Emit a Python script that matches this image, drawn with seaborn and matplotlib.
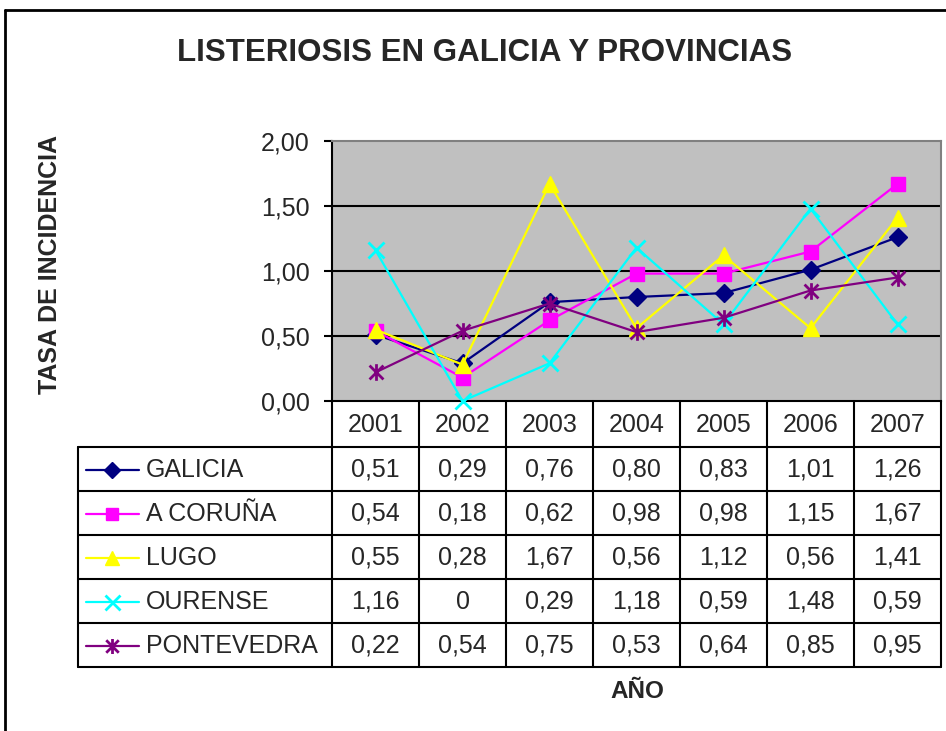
import numpy as np
import pandas as pd
import matplotlib
matplotlib.use("Agg")
import matplotlib.pyplot as plt
from matplotlib.path import Path
import seaborn as sns

years = ["2001", "2002", "2003", "2004", "2005", "2006", "2007"]
series_names = ["GALICIA", "A CORUÑA", "LUGO", "OURENSE", "PONTEVEDRA"]
galicia = [0.51, 0.29, 0.76, 0.80, 0.83, 1.01, 1.26]
coruna = [0.54, 0.18, 0.62, 0.98, 0.98, 1.15, 1.67]
lugo = [0.55, 0.28, 1.67, 0.56, 1.12, 0.56, 1.41]
ourense = [1.16, 0.0, 0.29, 1.18, 0.59, 1.48, 0.59]
pontevedra = [0.22, 0.54, 0.75, 0.53, 0.64, 0.85, 0.95]
yticks = [0.0, 0.5, 1.0, 1.5, 2.0]

title = "LISTERIOSIS EN GALICIA Y PROVINCIAS"
ylabel = "TASA DE INCIDENCIA"
xlabel = "AÑO"

values = [galicia, coruna, lugo, ourense, pontevedra]
colors = ["#000080", "#FF00FF", "#FFFF00", "#00FFFF", "#800080"]

star = Path([(-1, -1), (1, 1), (-1, 1), (1, -1), (0, -1.2), (0, 1.2)],
            [Path.MOVETO, Path.LINETO, Path.MOVETO, Path.LINETO, Path.MOVETO, Path.LINETO])
markers = ["D", "s", "^", "x", star]
msizes = [9, 10, 11, 12, 12]

sns.set_style("white")
plt.rcParams["font.family"] = ["Liberation Sans", "DejaVu Sans"]

W, H = 946, 731
fig = plt.figure(figsize=(W / 100, H / 100), dpi=100)

L, R, T, B = 332, 941, 141, 401
ax = fig.add_axes([L / W, 1 - B / H, (R - L) / W, (B - T) / H])
ax.set_facecolor("#C0C0C0")

x = np.arange(len(years))
for name, vals, c, m, ms in zip(series_names, values, colors, markers, msizes):
    df = pd.DataFrame({"x": x, "v": vals})
    sns.lineplot(data=df, x="x", y="v", ax=ax, color=c, marker=m, markersize=ms,
                 markeredgecolor=c, markerfacecolor=c,
                 markeredgewidth=2 if (m is star or (isinstance(m, str) and m == "x")) else 1,
                 linewidth=1.6, legend=False, zorder=3, clip_on=False)

ax.set_xlim(-0.5, len(years) - 0.5)
ax.set_ylim(0, 2.0)
ax.set_yticks(yticks)
ax.set_yticklabels([f"{v:.2f}".replace(".", ",") for v in yticks], fontsize=18)
ax.set_xticks([])
ax.set_xlabel("")
ax.set_ylabel("")
for g in yticks[1:-1]:
    ax.axhline(g, color="black", lw=1.5, zorder=1)
ax.tick_params(axis="y", direction="out", length=6, width=1.5, color="black", pad=10)
ax.yaxis.set_ticks_position("left")
for s in ["top", "right"]:
    ax.spines[s].set_color("#808080")
    ax.spines[s].set_linewidth(1.5)
ax.spines["left"].set_color("black")
ax.spines["left"].set_linewidth(1.5)
ax.spines["bottom"].set_color("black")
ax.spines["bottom"].set_linewidth(1.5)

# overlay for table, titles, border
ov = fig.add_axes([0, 0, 1, 1], facecolor="none")
ov.set_xlim(0, W)
ov.set_ylim(H, 0)
ov.axis("off")

col_w = (R - L) / len(years)
row_top = 447
row_h = (667 - 447) / len(series_names)
lw = 1.5
for i in range(len(years) + 1):
    xx = L + i * col_w
    ov.plot([xx, xx], [B, 667], color="black", lw=lw)
ov.plot([78, 78], [row_top, 667], color="black", lw=lw)
for j in range(len(series_names) + 1):
    yy = row_top + j * row_h
    ov.plot([78, R], [yy, yy], color="black", lw=lw)

for i, yr in enumerate(years):
    ov.text(L + (i + 0.5) * col_w, (B + row_top) / 2 + 1, yr, ha="center", va="center", fontsize=18)

for j, (name, vals, c, m, ms) in enumerate(zip(series_names, values, colors, markers, msizes)):
    cy = row_top + (j + 0.5) * row_h + 1
    ov.plot([86, 139], [cy, cy], color=c, lw=1.6)
    ov.plot([112], [cy], marker=m, markersize=ms * 0.9, color=c, markeredgecolor=c,
            markeredgewidth=2 if (m is star or (isinstance(m, str) and m == "x")) else 1)
    ov.text(146, cy, name, ha="left", va="center", fontsize=18)
    for i, v in enumerate(vals):
        s = "0" if v == 0 else f"{v:.2f}".replace(".", ",")
        ov.text(L + (i + 0.5) * col_w, cy, s, ha="center", va="center", fontsize=18)

ov.text(485, 53, title, ha="center", va="center", fontsize=22.5, fontweight="bold")
ov.text(50, 265, ylabel, ha="center", va="center", fontsize=18, fontweight="bold", rotation=90)
ov.text(637, 691, xlabel, ha="center", va="center", fontsize=17.5, fontweight="bold")

# chart border
ov.plot([5, W], [10, 10], color="black", lw=2)
ov.plot([5, 5], [10, H], color="black", lw=2)

fig.savefig("out.png", dpi=100)
